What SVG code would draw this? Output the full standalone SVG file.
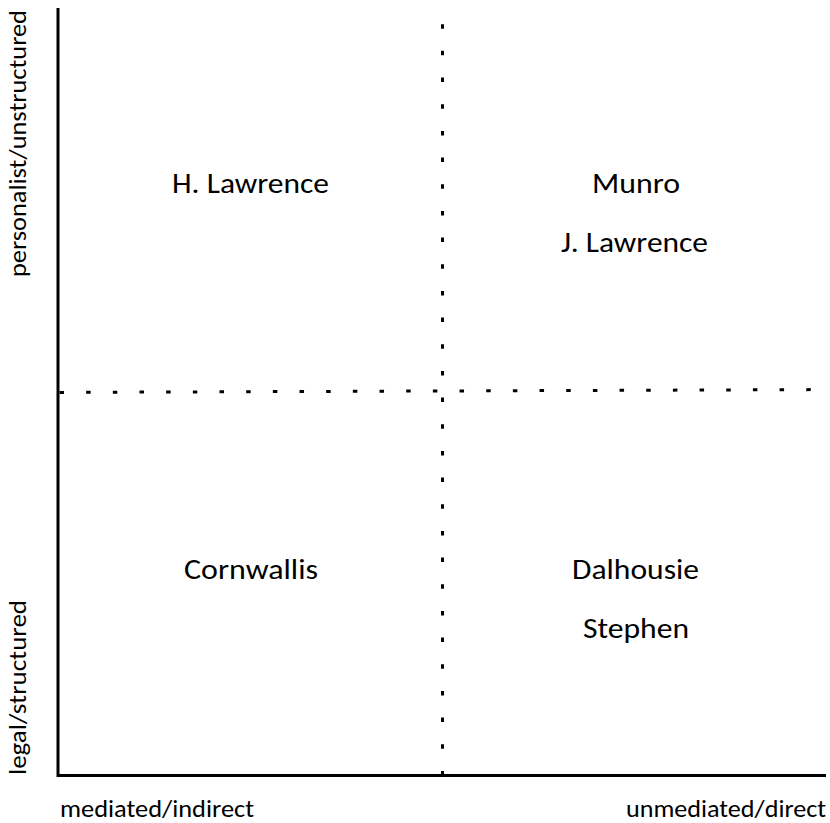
<svg xmlns="http://www.w3.org/2000/svg" width="830" height="823" viewBox="0 0 830 823">
  <style>
    .lbl { font-family: Carlito, Lato, "Open Sans", sans-serif; font-size: 29px; fill: #000; text-anchor: middle; }
    .ax { font-family: Carlito, Lato, "Open Sans", sans-serif; font-size: 24.5px; fill: #000; }
    .axis { fill: none; stroke: #000; stroke-width: 3; stroke-linejoin: miter; }
    .div { fill: none; stroke: #000; stroke-width: 3; stroke-dasharray: 4.5 22.17; }
  </style>
  <rect width="830" height="823" fill="#fff"/>
  <g id="connectors">
    <line class="div" x1="59.5" y1="392.4" x2="815" y2="389.6"/>
    <line class="div" x1="442.5" y1="24.2" x2="442.5" y2="777"/>
    <polyline class="axis" points="58,8 58,775.5 826,775.5"/>
  </g>
  <g id="axis-x-left"><text class="ax" x="60" y="817" textLength="194" lengthAdjust="spacingAndGlyphs">mediated/indirect</text></g>
  <g id="axis-x-right"><text class="ax" x="826" y="817" text-anchor="end" textLength="200" lengthAdjust="spacingAndGlyphs">unmediated/direct</text></g>
  <g id="axis-y-top"><text class="ax" transform="translate(26,277) rotate(-90)" x="0" y="0" textLength="267" lengthAdjust="spacingAndGlyphs">personalist/unstructured</text></g>
  <g id="axis-y-bottom"><text class="ax" transform="translate(26,775) rotate(-90)" x="0" y="0" textLength="175" lengthAdjust="spacingAndGlyphs">legal/structured</text></g>
  <g id="h-lawrence"><text class="lbl" x="250.5" y="193" textLength="157" lengthAdjust="spacingAndGlyphs">H. Lawrence</text></g>
  <g id="munro"><text class="lbl" x="636" y="193" textLength="88" lengthAdjust="spacingAndGlyphs">Munro</text></g>
  <g id="j-lawrence"><text class="lbl" x="634.5" y="252" textLength="147" lengthAdjust="spacingAndGlyphs">J. Lawrence</text></g>
  <g id="cornwallis"><text class="lbl" x="251" y="579" textLength="134" lengthAdjust="spacingAndGlyphs">Cornwallis</text></g>
  <g id="dalhousie"><text class="lbl" x="635.5" y="579" textLength="127" lengthAdjust="spacingAndGlyphs">Dalhousie</text></g>
  <g id="stephen"><text class="lbl" x="636" y="638" textLength="106" lengthAdjust="spacingAndGlyphs">Stephen</text></g>
</svg>
